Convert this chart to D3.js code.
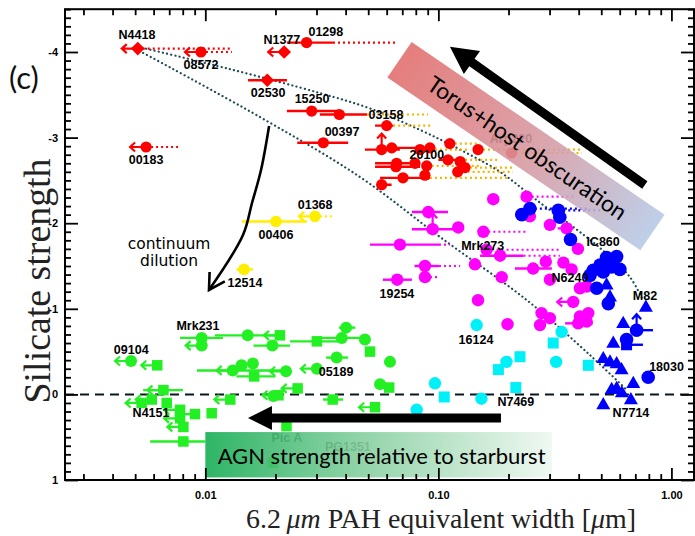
<!DOCTYPE html>
<html><head><meta charset="utf-8">
<script src="https://cdn.jsdelivr.net/npm/d3@7"></script>
<style>body{margin:0;background:#fff}svg{display:block}</style>
</head><body>
<svg id="chart" width="695" height="536"></svg>
<script>
// Rows: [EW 6.2um (um), silicate strength, err low, err high, dotted extension to, flag]
// flag: 1 = upper limit (left arrow), 2 = up arrow
const redDiamonds = [
  [0.00513, -4.04, null, null, 0.0130, 1],
  [0.0218, -4.00, null, null, null, 1],
  [0.01845, -3.67, 0.01525, 0.0224, null, 0]
];
const redTopCircles = [
  [0.00958, -4.00, null, null, 0.0130, 1],
  [0.0272, -4.11, 0.0224, 0.0353, 0.0671, 0],
  [0.0286, -3.31, 0.0224, 0.0375, null, 0],
  [0.0321, -2.94, 0.0248, 0.0410, null, 0],
  [0.00557, -2.89, null, null, 0.00779, 1]
];
const redClusterCircles = [
  [0.0376, -3.27, 0.0310, 0.0494, 0.0903, 0],
  [0.0600, -3.14, 0.0535, 0.0640, 0.0948, 0],
  [0.0571, -2.86, 0.0484, 0.0684, null, 2],
  [0.0631, -2.88, null, 0.0834, null, 0],
  [0.0834, -2.86, null, null, 0.137, 0],
  [0.0920, -2.88, null, null, null, 0],
  [0.112, -2.93, null, null, 0.151, 0],
  [0.148, -2.86, null, null, 0.413, 0],
  [0.206, -2.82, null, null, 0.413, 0],
  [0.0662, -2.70, 0.0535, 0.0834, null, 0],
  [0.0794, -2.70, null, null, null, 0],
  [0.0891, -2.67, null, null, 0.151, 0],
  [0.110, -2.74, 0.100, 0.124, 0.184, 0],
  [0.124, -2.72, null, null, null, 0],
  [0.130, -2.65, null, null, 0.209, 0],
  [0.0658, -2.66, 0.0535, 0.0834, null, 0],
  [0.0705, -2.53, 0.0562, 0.0920, 0.203, 0],
  [0.121, -2.60, null, null, 0.209, 0],
  [0.0571, -2.45, null, 0.063, null, 0],
  [0.0876, -2.56, null, null, null, 0]
];
const yellowCircles = [
  [0.02955, -2.08, null, null, 0.0350, 1],
  [0.0201, -2.02, 0.01437, 0.0273, null, 0],
  [0.01466, -1.46, 0.0136, 0.0160, null, 0]
];
const magentaCircles = [
  [0.172, -2.28, null, null, null, 0],
  [0.239, -2.31, null, null, 0.393, 0],
  [0.0905, -2.13, 0.077, 0.110, null, 0],
  [0.0945, -1.93, 0.077, 0.118, null, 2],
  [0.1217, -1.95, null, null, null, 0],
  [0.156, -1.90, null, null, 0.240, 0],
  [0.0684, -1.75, 0.0509, 0.1006, 0.1121, 0],
  [0.161, -1.69, null, null, 0.332, 0],
  [0.184, -1.62, 0.151, 0.232, 0.332, 0],
  [0.0876, -1.50, 0.079, 0.1006, 0.124, 0],
  [0.1435, -1.52, null, null, null, 0],
  [0.255, -1.47, 0.213, 0.307, null, 0],
  [0.344, -1.54, null, null, null, 0],
  [0.373, -1.46, null, null, null, 0],
  [0.0876, -1.37, null, null, 0.1016, 0],
  [0.0666, -1.34, 0.0578, 0.077, null, 0],
  [0.187, -1.37, null, null, null, 0],
  [0.301, -1.34, null, null, null, 0],
  [0.405, -1.24, null, null, null, 0],
  [0.433, -1.26, null, null, null, 0],
  [0.148, -1.10, null, null, null, 0],
  [0.379, -1.08, null, null, null, 1],
  [0.277, -0.95, null, null, null, 0],
  [0.301, -0.89, null, null, null, 0],
  [0.273, -0.81, null, null, null, 0],
  [0.405, -0.91, null, null, null, 0],
  [0.440, -0.95, null, null, null, 0],
  [0.398, -0.83, 0.35, 0.46, null, 0],
  [0.433, -0.85, null, null, null, 0],
  [0.198, -0.82, null, null, null, 0],
  [0.247, -2.08, null, null, null, 0],
  [0.301, -1.98, null, null, null, 0],
  [0.355, -1.94, 0.325, 0.38, null, 0],
  [0.397, -1.70, null, null, null, 0],
  [0.289, -1.55, null, null, null, 0]
];
const blueCircles = [
  [0.228, -2.10, 0.215, 0.245, null, 0],
  [0.247, -2.17, null, null, 0.447, 0],
  [0.327, -2.15, null, null, 0.644, 0],
  [0.332, -2.07, null, null, null, 0],
  [0.369, -1.81, null, null, null, 0],
  [0.527, -1.60, null, null, null, 0],
  [0.582, -1.61, null, null, null, 0],
  [0.494, -1.51, null, null, null, 0],
  [0.554, -1.49, null, null, null, 0],
  [0.601, -1.46, null, null, null, 0],
  [0.462, -1.45, null, null, null, 0],
  [0.510, -1.43, null, null, null, 0],
  [0.447, -1.39, null, null, null, 0],
  [0.478, -1.24, null, null, null, 0],
  [0.536, -1.06, null, null, null, 0],
  [0.709, -0.75, null, 0.834, null, 2],
  [0.642, -0.64, null, null, null, 0],
  [0.795, -0.20, null, null, null, 0]
];
const blueSquares = [
  [0.642, -0.58, null, 0.755, null, 0]
];
const blueTriangles = [
  [0.527, -1.28, null, null, null, 0],
  [0.545, -1.14, null, null, null, 0],
  [0.777, -1.02, null, null, null, 0],
  [0.621, -0.83, null, null, null, 0],
  [0.563, -0.60, null, null, null, 0],
  [0.510, -0.42, null, null, null, 0],
  [0.545, -0.38, null, null, null, 0],
  [0.582, -0.36, null, null, null, 0],
  [0.611, -0.29, null, null, null, 0],
  [0.686, -0.13, null, null, null, 0],
  [0.554, -0.06, null, null, null, 0],
  [0.582, -0.07, null, null, null, 0],
  [0.510, 0.12, null, null, null, 0],
  [0.670, 0.06, null, null, null, 0],
  [0.613, -0.02, null, null, null, 0]
];
const cyanCircles = [
  [0.146, -0.81, null, null, null, 0],
  [0.338, -0.73, null, null, null, 0],
  [0.196, -0.38, null, null, null, 0],
  [0.320, -0.38, null, null, null, 0],
  [0.0967, -0.13, null, null, null, 0],
  [0.153, 0.05, null, null, null, 0],
  [0.0807, 0.18, null, null, null, 0]
];
const cyanSquares = [
  [0.311, -0.60, null, null, null, 0],
  [0.181, -0.29, null, null, null, 0],
  [0.224, -0.44, null, null, null, 0],
  [0.440, -0.34, null, null, null, 0],
  [0.106, 0.03, null, null, null, 0],
  [0.215, -0.08, null, null, null, 0]
];
const greenCircles = [
  [0.0048, -0.39, null, null, null, 1],
  [0.00965, -0.66, 0.00779, 0.0119, null, 0],
  [0.00965, -0.57, null, null, null, 1],
  [0.0152, -0.69, 0.0110, 0.0215, null, 0],
  [0.0194, -0.57, 0.0161, 0.0231, null, 0],
  [0.0385, -0.66, 0.0301, 0.0484, null, 0],
  [0.0402, -0.78, 0.0375, 0.0440, null, 0],
  [0.0484, -0.64, null, null, null, 0],
  [0.0620, -0.38, null, null, null, 0],
  [0.0143, -0.34, null, null, null, 0],
  [0.0160, -0.36, null, null, null, 0],
  [0.0131, -0.28, 0.00921, 0.0224, null, 1],
  [0.0222, -0.27, null, null, null, 1],
  [0.0366, -0.43, 0.0330, 0.0410, null, 0],
  [0.0301, -0.30, null, null, null, 1],
  [0.0562, -0.12, null, null, null, 0],
  [0.0196, 0.02, null, null, null, 0]
];
const greenSquares = [
  [0.00622, -0.34, null, null, null, 1],
  [0.0209, -0.69, null, null, null, 1],
  [0.0301, -0.62, 0.0231, 0.0390, null, 0],
  [0.0509, -0.50, null, null, null, 0],
  [0.0162, -0.21, 0.0136, 0.0200, null, 0],
  [0.0615, -0.08, null, null, null, 0],
  [0.0249, -0.07, null, null, null, 1],
  [0.0206, 0.01, null, null, null, 1],
  [0.0128, 0.06, null, null, null, 1],
  [0.0352, 0.06, 0.0320, 0.0390, null, 0],
  [0.0535, 0.15, null, null, null, 1],
  [0.00661, -0.05, 0.00541, 0.00802, null, 1],
  [0.00589, 0.06, null, null, null, 1],
  [0.00533, 0.10, null, null, null, 1],
  [0.00683, 0.10, null, null, null, 0],
  [0.00779, 0.18, null, null, null, 1],
  [0.00903, 0.23, null, null, null, 1],
  [0.01065, 0.22, null, null, null, 0],
  [0.00779, 0.28, null, null, null, 1],
  [0.00805, 0.38, null, null, null, 1],
  [0.00805, 0.55, 0.0058, 0.0100, null, 0],
  [0.0223, 0.37, null, null, null, 0],
  [0.0195, 0.80, null, null, null, 0]
];

// Source names: [text, EW, silicate strength]
const sourceLabels = [
  ["N4418", 0.00509, -4.20], ["08572", 0.00958, -3.85], ["N1377", 0.0213, -4.14],
  ["01298", 0.0329, -4.23], ["02530", 0.0186, -3.52], ["15250", 0.0287, -3.45],
  ["03158", 0.0596, -3.26], ["00397", 0.0386, -3.07], ["00183", 0.00557, -2.74],
  ["20100", 0.0893, -2.80], ["01368", 0.0296, -2.21], ["00406", 0.0201, -1.86],
  ["12514", 0.0148, -1.30], ["Mrk273", 0.155, -1.73], ["19254", 0.0664, -1.17],
  ["IC860", 0.509, -1.78], ["N6240", 0.367, -1.36], ["M82", 0.770, -1.15],
  ["16124", 0.145, -0.64], ["18030", 0.953, -0.32], ["N7469", 0.215, 0.09],
  ["N7714", 0.670, 0.22], ["09104", 0.00481, -0.52], ["Mrk231", 0.0093, -0.80],
  ["05189", 0.0364, -0.26], ["N4151", 0.00585, 0.22]
];
const hiddenLabels = [["Arp220", 0.205, -2.98], ["Pic A", 0.0224, 0.51], ["PG1351", 0.0409, 0.61]];

// Mixing tracks (dotted)
const trackUpper = [[0.00535,-4.05],[0.01276,-3.80],[0.0310,-3.52],[0.0509,-3.34],[0.0834,-3.09],[0.1238,-2.86],[0.1838,-2.60],[0.2729,-2.24],[0.378,-1.96],[0.5186,-1.66],[0.664,-1.37],[0.755,-1.10]];
const trackLower = [[0.00541,-3.99],[0.01717,-3.24],[0.0461,-2.54],[0.1016,-1.84],[0.240,-1.10],[0.447,-0.46],[0.644,-0.05]];

// Annotations (data coordinates)
const obscBand = {from: [0.0681, -3.91], to: [0.829, -1.89], text: "Torus+host obscuration"};
const obscArrow = {from: [0.769, -2.446], to: [0.1121, -4.06]};
const dilutionCurve = [[0.01878,-3.136],[0.01734,-2.621],[0.01586,-2.236],[0.01451,-1.862],[0.01037,-1.22]];
const dilutionText = [["continuum", 0.00699, -1.757], ["dilution", 0.00699, -1.558]];
const agnArrow = {from: [0.1856, 0.276], to: [0.01524, 0.276]};
const agnBand = {x0: 0.01, x1: 0.307, y0: 0.44, y1: 0.97, text: "AGN strength relative to starburst"};

const xMajor = [0.01, 0.1, 1];
const yMajor = [-4, -3, -2, -1, 0, 1];

// ---------------------------------------------------------------------------
const svg = d3.select("#chart");
const L = 65, R = 694, T = 9.2, B = 480;
const x = d3.scaleLog().domain([0.0025, 1.25]).range([L, R]);
const y = d3.scaleLinear().domain([1, -4.5]).range([B, T]);

const defs = svg.append("defs");
defs.append("clipPath").attr("id", "clip").append("rect")
  .attr("x", L).attr("y", T).attr("width", R - L).attr("height", B - T);

const gRed = defs.append("linearGradient").attr("id", "gradRed");
gRed.append("stop").attr("offset", "0%").attr("stop-color", "#e26c6b");
gRed.append("stop").attr("offset", "55%").attr("stop-color", "#d59aa3");
gRed.append("stop").attr("offset", "100%").attr("stop-color", "#b5c9e6");
const gGreen = defs.append("linearGradient").attr("id", "gradGreen");
gGreen.append("stop").attr("offset", "0%").attr("stop-color", "#17ad55");
gGreen.append("stop").attr("offset", "45%").attr("stop-color", "#85cf9f");
gGreen.append("stop").attr("offset", "100%").attr("stop-color", "#eef7f0");

const plot = svg.append("g").attr("clip-path", "url(#clip)");

// zero line
plot.append("line").attr("x1", L).attr("x2", R).attr("y1", y(0)).attr("y2", y(0))
  .attr("stroke", "#0b1820").attr("stroke-width", 2).attr("stroke-dasharray", "9,6");

// tracks
const trackLine = d3.line().x(d => x(d[0])).y(d => y(d[1])).curve(d3.curveCatmullRom);
[trackUpper, trackLower].forEach(t => plot.append("path").attr("d", trackLine(t))
  .attr("fill", "none").attr("stroke", "#1d4a55").attr("stroke-width", 2.2)
  .attr("stroke-linecap", "round").attr("stroke-dasharray", "0.1,4.2"));

const groups = [
  {rows: redTopCircles, color: "#ff0000", shape: "circle", size: 5.6, dot: "#ff0000"},
  {rows: redClusterCircles, color: "#ff0000", shape: "circle", size: 5.6, dot: "#f4b400"},
  {rows: redDiamonds, color: "#ff0000", shape: "diamond", size: 9.5, dot: "#ff0000"},
  {rows: yellowCircles, color: "#ffee00", shape: "circle", size: 5.8, dot: "#ffee00"},
  {rows: greenCircles, color: "#22f022", shape: "circle", size: 6, dot: "#22f022"},
  {rows: greenSquares, color: "#22f022", shape: "square", size: 10.5, dot: "#22f022"},
  {rows: cyanCircles, color: "#00f0f8", shape: "circle", size: 6.2, dot: "#00f0f8"},
  {rows: cyanSquares, color: "#00f0f8", shape: "square", size: 11, dot: "#00f0f8"},
  {rows: magentaCircles, color: "#ff00ff", shape: "circle", size: 6.2, dot: "#ff00ff"},
  {rows: blueCircles, color: "#0000ff", shape: "circle", size: 6.8, dot: "#0000ff"},
  {rows: blueSquares, color: "#0000ff", shape: "square", size: 11, dot: "#0000ff"},
  {rows: blueTriangles, color: "#0000ff", shape: "triangle", size: 14, dot: "#0000ff"}
];

// error bars, dotted extensions and limit arrows
const gErr = plot.append("g");
groups.forEach(g => g.rows.forEach(([vx, vy, lo, hi, dot, flag]) => {
  const px = x(vx), py = y(vy);
  if (dot != null) {
    gErr.append("line").attr("x1", x(hi != null ? hi : vx)).attr("x2", x(dot))
      .attr("y1", py).attr("y2", py).attr("stroke", g.dot).attr("stroke-width", 2.2)
      .attr("stroke-dasharray", "2,3");
  }
  if (lo != null || hi != null) {
    gErr.append("line").attr("x1", x(lo != null ? lo : vx)).attr("x2", x(hi != null ? hi : vx))
      .attr("y1", py).attr("y2", py).attr("stroke", g.color).attr("stroke-width", 2.4);
  }
  if (flag === 1) {
    gErr.append("path").attr("d", `M${px - 3},${py}L${px - 16},${py}M${px - 11},${py - 4.5}L${px - 16},${py}L${px - 11},${py + 4.5}`)
      .attr("fill", "none").attr("stroke", g.color).attr("stroke-width", 2.2);
  } else if (flag === 2) {
    gErr.append("path").attr("d", `M${px},${py - 3}L${px},${py - 16}M${px - 4.5},${py - 11}L${px},${py - 16}L${px + 4.5},${py - 11}`)
      .attr("fill", "none").attr("stroke", g.color).attr("stroke-width", 2.2);
  }
}));

// markers
const gPts = plot.append("g");
groups.forEach(g => g.rows.forEach(([vx, vy]) => {
  const px = x(vx), py = y(vy), s = g.size;
  if (g.shape === "circle") {
    gPts.append("circle").attr("cx", px).attr("cy", py).attr("r", s).attr("fill", g.color);
  } else if (g.shape === "square") {
    gPts.append("rect").attr("x", px - s / 2).attr("y", py - s / 2).attr("width", s).attr("height", s).attr("fill", g.color);
  } else if (g.shape === "diamond") {
    gPts.append("path").attr("d", `M${px},${py - s * 0.72}L${px + s * 0.72},${py}L${px},${py + s * 0.72}L${px - s * 0.72},${py}Z`).attr("fill", g.color);
  } else {
    const h = s * 0.87;
    gPts.append("path").attr("d", `M${px},${py - h * 0.62}L${px + s / 2},${py + h * 0.38}L${px - s / 2},${py + h * 0.38}Z`).attr("fill", g.color);
  }
}));

// labels
const labelFont = "'Liberation Sans', Arial, sans-serif";
plot.append("g").selectAll("text").data(sourceLabels.concat(hiddenLabels)).join("text")
  .attr("x", d => x(d[1])).attr("y", d => y(d[2])).attr("text-anchor", "middle")
  .attr("dominant-baseline", "central").attr("font-family", labelFont)
  .attr("font-weight", "bold").attr("font-size", 12.5).attr("fill", "#000").text(d => d[0]);

// continuum dilution arrow
const dPts = dilutionCurve.map(d => [x(d[0]), y(d[1])]);
plot.append("path").attr("d", d3.line().curve(d3.curveCatmullRom)(dPts))
  .attr("fill", "none").attr("stroke", "#000").attr("stroke-width", 2.6);
{
  const n = dPts.length, tip = dPts[n - 1], prev = dPts[n - 2];
  const ang = Math.atan2(prev[1] - tip[1], prev[0] - tip[0]);
  const len = 18, sp = 0.52;
  const w1 = [tip[0] + len * Math.cos(ang - sp), tip[1] + len * Math.sin(ang - sp)];
  const w2 = [tip[0] + len * Math.cos(ang + sp), tip[1] + len * Math.sin(ang + sp)];
  plot.append("path").attr("d", `M${w1}L${tip}L${w2}`).attr("fill", "none")
    .attr("stroke", "#000").attr("stroke-width", 2.6).attr("stroke-linejoin", "miter");
}
plot.append("g").selectAll("text").data(dilutionText).join("text")
  .attr("x", d => x(d[1])).attr("y", d => y(d[2])).attr("text-anchor", "middle")
  .attr("dominant-baseline", "central").attr("font-family", "'DejaVu Sans', sans-serif")
  .attr("font-size", 15.5).attr("fill", "#000").text(d => d[0]);

// fit a text element to a target width
function fitWidth(sel, target) {
  const w = sel.node().getComputedTextLength();
  sel.attr("font-size", parseFloat(sel.attr("font-size")) * target / w);
}

// thick arrow helper
function thickArrow(from, to, shaftW, headL, headW) {
  const x0 = x(from[0]), y0 = y(from[1]), x1 = x(to[0]), y1 = y(to[1]);
  const ang = Math.atan2(y1 - y0, x1 - x0), len = Math.hypot(x1 - x0, y1 - y0);
  const g = svg.append("g").attr("transform", `translate(${x0},${y0}) rotate(${ang * 180 / Math.PI})`);
  g.append("path").attr("d",
    `M0,${-shaftW / 2}L${len - headL},${-shaftW / 2}L${len - headL},${-headW}L${len},0L${len - headL},${headW}L${len - headL},${shaftW / 2}L0,${shaftW / 2}Z`)
    .attr("fill", "#000");
}

// obscuration band
{
  const x0 = x(obscBand.from[0]), y0 = y(obscBand.from[1]);
  const x1 = x(obscBand.to[0]), y1 = y(obscBand.to[1]);
  const ang = Math.atan2(y1 - y0, x1 - x0) * 180 / Math.PI, len = Math.hypot(x1 - x0, y1 - y0);
  const g = svg.append("g").attr("transform", `translate(${x0},${y0}) rotate(${ang})`);
  g.append("rect").attr("x", 0).attr("y", -21.5).attr("width", len).attr("height", 43)
    .attr("fill", "url(#gradRed)").attr("opacity", 0.88);
  const t = g.append("text").attr("x", len / 2 + 2).attr("y", 0).attr("text-anchor", "middle")
    .attr("dominant-baseline", "central").attr("font-family", "Lato, 'Open Sans', sans-serif")
    .attr("font-size", 24).attr("fill", "#000").text(obscBand.text);
  fitWidth(t, 236);
}
thickArrow(obscArrow.from, obscArrow.to, 9, 27, 14);

// AGN band
{
  const bx = x(agnBand.x0), by = y(agnBand.y0);
  svg.append("rect").attr("x", bx).attr("y", by).attr("width", x(agnBand.x1) - bx)
    .attr("height", y(agnBand.y1) - by).attr("fill", "url(#gradGreen)").attr("opacity", 0.9);
  const t = svg.append("text").attr("x", (bx + x(agnBand.x1)) / 2 + 3).attr("y", (by + y(agnBand.y1)) / 2 + 1)
    .attr("text-anchor", "middle").attr("dominant-baseline", "central")
    .attr("font-family", "Lato, 'Open Sans', sans-serif").attr("font-size", 24).attr("fill", "#000")
    .text(agnBand.text);
  fitWidth(t, 328);
}
thickArrow(agnArrow.from, agnArrow.to, 9, 24, 12);

// axes
function minorLog(dom) {
  const out = [];
  for (let e = -3; e <= 0; e++) for (let m = 1; m <= 9; m++) {
    const v = m * Math.pow(10, e);
    if (v >= dom[0] && v <= dom[1] && !xMajor.some(t => Math.abs(t - v) < 1e-9)) out.push(v);
  }
  return out;
}
const xMinor = minorLog(x.domain());
const yMinor = d3.range(-45, 11).map(v => v / 10).filter(v => !yMajor.includes(v));
const tickFont = "'Liberation Sans', Arial, sans-serif";

function styleAxis(g) {
  g.select(".domain").remove();
  g.selectAll("line").attr("stroke", "#000").attr("stroke-width", 1.8);
  g.selectAll("text").attr("font-family", tickFont).attr("font-weight", "bold").attr("font-size", 11).attr("fill", "#000");
}
svg.append("g").attr("transform", `translate(0,${B})`)
  .call(d3.axisBottom(x).tickValues(xMajor).tickSizeInner(-12).tickSizeOuter(0).tickPadding(11).tickFormat(d3.format(".2f"))).call(styleAxis);
svg.append("g").attr("transform", `translate(0,${B})`)
  .call(d3.axisBottom(x).tickValues(xMinor).tickSizeInner(-6).tickSizeOuter(0).tickFormat("")).call(styleAxis);
svg.append("g").attr("transform", `translate(0,${T})`)
  .call(d3.axisTop(x).tickValues(xMajor).tickSizeInner(-12).tickSizeOuter(0).tickFormat("")).call(styleAxis);
svg.append("g").attr("transform", `translate(0,${T})`)
  .call(d3.axisTop(x).tickValues(xMinor).tickSizeInner(-6).tickSizeOuter(0).tickFormat("")).call(styleAxis);
svg.append("g").attr("transform", `translate(${L},0)`)
  .call(d3.axisLeft(y).tickValues(yMajor).tickSizeInner(-13).tickSizeOuter(0).tickPadding(7)
    .tickFormat(d => d < 0 ? "-" + Math.abs(d) : String(d))).call(styleAxis);
svg.append("g").attr("transform", `translate(${L},0)`)
  .call(d3.axisLeft(y).tickValues(yMinor).tickSizeInner(-6).tickSizeOuter(0).tickFormat("")).call(styleAxis);
svg.append("g").attr("transform", `translate(${R},0)`)
  .call(d3.axisRight(y).tickValues(yMajor).tickSizeInner(-13).tickSizeOuter(0).tickFormat("")).call(styleAxis);
svg.append("g").attr("transform", `translate(${R},0)`)
  .call(d3.axisRight(y).tickValues(yMinor).tickSizeInner(-6).tickSizeOuter(0).tickFormat("")).call(styleAxis);

svg.append("rect").attr("x", L).attr("y", T).attr("width", R - L).attr("height", B - T)
  .attr("fill", "none").attr("stroke", "#000").attr("stroke-width", 2);

// titles
const yt = svg.append("text").attr("transform", `translate(37,${(y(-2.7) + y(0.05)) / 2}) rotate(-90)`)
  .attr("text-anchor", "middle").attr("dominant-baseline", "central")
  .attr("font-family", "'Liberation Serif', 'Times New Roman', serif").attr("font-size", 28)
  .attr("fill", "#222").text("Silicate strength");
fitWidth(yt, 245);

const xt = svg.append("text").attr("x", 441).attr("y", 528).attr("text-anchor", "middle")
  .attr("font-family", "'Liberation Serif', 'Times New Roman', serif").attr("font-size", 24).attr("fill", "#222");
xt.append("tspan").text("6.2\u2009");
xt.append("tspan").attr("font-style", "italic").text("\u03bcm");
xt.append("tspan").text(" PAH equivalent width [");
xt.append("tspan").attr("font-style", "italic").text("\u03bc");
xt.append("tspan").text("m]");
fitWidth(xt, 390);

svg.append("text").attr("x", 9).attr("y", 89).attr("font-family", "Lato, 'Open Sans', sans-serif")
  .attr("font-size", 31).attr("fill", "#111").text("(c)");
</script>
</body></html>
